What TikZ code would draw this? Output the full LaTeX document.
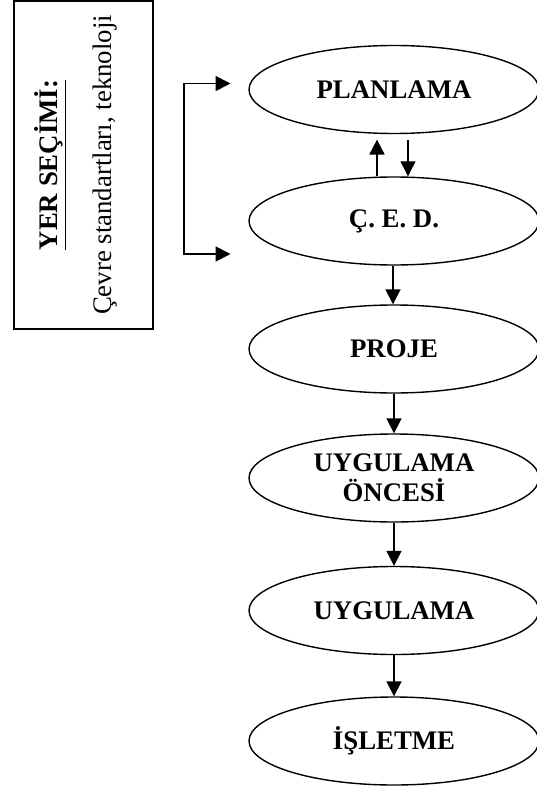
\documentclass[tikz,border=0pt]{standalone}
\usepackage{fontspec}
\setmainfont{Liberation Serif}
\usetikzlibrary{shapes.geometric,arrows.meta}
\tikzset{
  stage/.style={draw, ellipse, line width=0.7pt, minimum width=145pt, minimum height=44pt,
    inner sep=0pt, align=center, font=\fontsize{13.4}{15}\selectfont\bfseries},
  arr/.style={line width=0.9pt, -{Triangle[length=7.5pt,width=7.5pt]}},
  thinarr/.style={line width=0.6pt, -{Triangle[length=7.5pt,width=7.5pt]}},
  sidebox/.style={draw, line width=1pt, inner sep=0pt, minimum width=69.5pt, minimum height=163.75pt},
  sidetext/.style={rotate=90, anchor=base, inner sep=0pt, font=\fontsize{13.4}{15}\selectfont}
}
\begin{document}
\begin{tikzpicture}[x=0.5pt,y=-0.5pt]
\useasboundingbox (0,0) rectangle (536,791);
% side box
\node[sidebox] (box) at (83,165.25) {};
\node[sidetext] (yer) at (57,165) {\textbf{\underline{YER SEÇİMİ:}}};
\node[sidetext] (cevre) at (111,165) {Çevre standartları, teknoloji};
% stages
\node[stage] (plan) at (394,89.5) {PLANLAMA};
\node[stage] (ced) at (394,221) {Ç. E. D.};
\node[stage] (proje) at (394,349) {PROJE};
\node[stage] (once) at (394,478) {UYGULAMA\\ÖNCESİ};
\node[stage] (uyg) at (394,610.5) {UYGULAMA};
\node[stage] (islet) at (394,741) {İŞLETME};
% arrows between planlama and ced
\draw[arr, shorten >=2.7pt] ([xshift=-8.5pt]ced.north) -- ([xshift=-8.5pt]plan.south);
\draw[thinarr, shorten <=3pt] ([xshift=7pt]plan.south) -- ([xshift=7pt]ced.north);
% chain
\draw[arr] ([xshift=-0.5pt]ced.south) -- ([xshift=-0.5pt]proje.north);
\draw[arr] (proje.south) -- (once.north);
\draw[arr] (once.south) -- (uyg.north);
\draw[arr] (uyg.south) -- (islet.north);
% bracket
\coordinate (bt) at (184,83.5);
\coordinate (bb) at (184,254);
\coordinate (tt) at (230.5,83.5);
\coordinate (tb) at (230.5,254);
\draw[line width=0.9pt, {Triangle[length=7.5pt,width=7.5pt]}-{Triangle[length=7.5pt,width=7.5pt]}] (tt) -- (bt) -- (bb) -- (tb);
\end{tikzpicture}
\end{document}
